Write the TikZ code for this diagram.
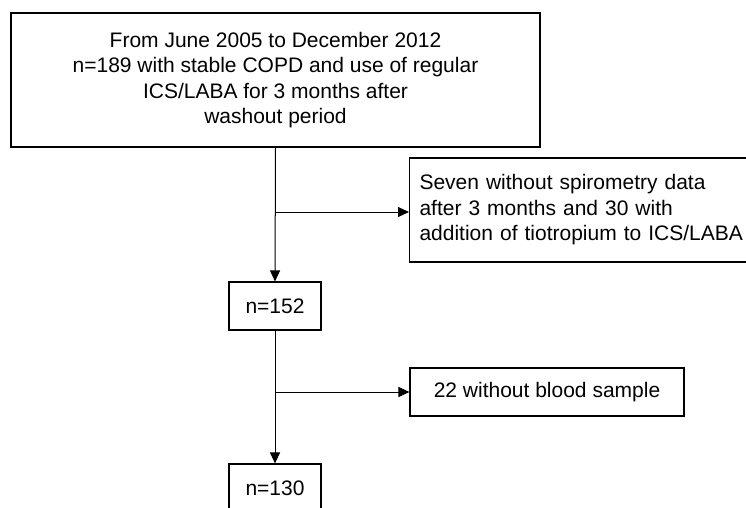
\documentclass[tikz,border=0pt]{standalone}
\usepackage{fontspec}
\setmainfont{Liberation Sans}
\usetikzlibrary{arrows.meta,calc}
\begin{document}
\begin{tikzpicture}[x=1pt,y=-1pt,
  box/.style={draw=black,line width=1.1pt,inner sep=0pt,font=\fontsize{21}{25.5}\selectfont},
  conn/.style={draw=black,line width=1pt},
  arr/.style={conn,-{Triangle[length=11pt,width=10pt]}}]
\useasboundingbox (0,0) rectangle (746,508);
\clip (0,0) rectangle (746,508);
\node[box,minimum width=529pt,minimum height=134pt,align=center] (top) at (275.5,80)
  {From June 2005 to December 2012\\n=189 with stable COPD and use of regular\\ICS/LABA for 3 months after\\washout period};
\node[box,anchor=west,minimum height=104pt,text width=360pt,align=left,inner xsep=10pt] (excl1) at (409,210)
  {Seven without spirometry data\\after 3 months and 30 with\\addition of tiotropium to ICS/LABA};
\node[box,minimum width=92pt,minimum height=48pt] (n152) at (275,306) {n=152};
\node[box,minimum width=274pt,minimum height=48pt] (excl2) at (547,392) {22 without blood sample};
\node[box,minimum width=92pt,minimum height=48pt] (n130) at (275,488) {n=130};
\coordinate (b1) at (275,212);
\coordinate (b2) at (275,392);
\draw[arr] (top.south) -- (n152.north);
\draw[arr] (b1) -- (b1 -| excl1.west);
\draw[arr] (n152.south) -- (n130.north);
\draw[arr] (b2) -- (excl2.west);
\end{tikzpicture}
\end{document}
